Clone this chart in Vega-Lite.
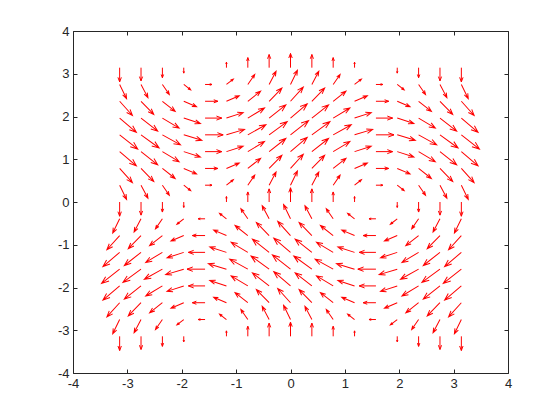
{
  "$schema": "https://vega.github.io/schema/vega-lite/v6.json",
  "width": 435,
  "height": 342,
  "autosize": {"type": "none"},
  "padding": {"left": 73, "top": 31, "right": 52, "bottom": 47},
  "background": "white",
  "config": {"view": {"stroke": "#262626", "strokeWidth": 1}},
  "datasets": {
    "field": [
{"x":-3.142,"y":-3.142,"u":0,"v":-1},{"x":-2.749,"y":-3.142,"u":0,"v":-0.924},{"x":-2.356,"y":-3.142,"u":0,"v":-0.707},{"x":-1.963,"y":-3.142,"u":0,"v":-0.383},{"x":-1.571,"y":-3.142,"u":0,"v":0},{"x":-1.178,"y":-3.142,"u":0,"v":0.383},{"x":-0.785,"y":-3.142,"u":0,"v":0.707},{"x":-0.393,"y":-3.142,"u":0,"v":0.924},{"x":0,"y":-3.142,"u":0,"v":1},{"x":0.393,"y":-3.142,"u":0,"v":0.924},{"x":0.785,"y":-3.142,"u":0,"v":0.707},{"x":1.178,"y":-3.142,"u":0,"v":0.383},{"x":1.571,"y":-3.142,"u":0,"v":0},{"x":1.963,"y":-3.142,"u":0,"v":-0.383},{"x":2.356,"y":-3.142,"u":0,"v":-0.707},{"x":2.749,"y":-3.142,"u":0,"v":-0.924},{"x":3.142,"y":-3.142,"u":0,"v":-1},
{"x":-3.142,"y":-2.749,"u":-0.383,"v":-1},{"x":-2.749,"y":-2.749,"u":-0.383,"v":-0.924},{"x":-2.356,"y":-2.749,"u":-0.383,"v":-0.707},{"x":-1.963,"y":-2.749,"u":-0.383,"v":-0.383},{"x":-1.571,"y":-2.749,"u":-0.383,"v":0},{"x":-1.178,"y":-2.749,"u":-0.383,"v":0.383},{"x":-0.785,"y":-2.749,"u":-0.383,"v":0.707},{"x":-0.393,"y":-2.749,"u":-0.383,"v":0.924},{"x":0,"y":-2.749,"u":-0.383,"v":1},{"x":0.393,"y":-2.749,"u":-0.383,"v":0.924},{"x":0.785,"y":-2.749,"u":-0.383,"v":0.707},{"x":1.178,"y":-2.749,"u":-0.383,"v":0.383},{"x":1.571,"y":-2.749,"u":-0.383,"v":0},{"x":1.963,"y":-2.749,"u":-0.383,"v":-0.383},{"x":2.356,"y":-2.749,"u":-0.383,"v":-0.707},{"x":2.749,"y":-2.749,"u":-0.383,"v":-0.924},{"x":3.142,"y":-2.749,"u":-0.383,"v":-1},
{"x":-3.142,"y":-2.356,"u":-0.707,"v":-1},{"x":-2.749,"y":-2.356,"u":-0.707,"v":-0.924},{"x":-2.356,"y":-2.356,"u":-0.707,"v":-0.707},{"x":-1.963,"y":-2.356,"u":-0.707,"v":-0.383},{"x":-1.571,"y":-2.356,"u":-0.707,"v":0},{"x":-1.178,"y":-2.356,"u":-0.707,"v":0.383},{"x":-0.785,"y":-2.356,"u":-0.707,"v":0.707},{"x":-0.393,"y":-2.356,"u":-0.707,"v":0.924},{"x":0,"y":-2.356,"u":-0.707,"v":1},{"x":0.393,"y":-2.356,"u":-0.707,"v":0.924},{"x":0.785,"y":-2.356,"u":-0.707,"v":0.707},{"x":1.178,"y":-2.356,"u":-0.707,"v":0.383},{"x":1.571,"y":-2.356,"u":-0.707,"v":0},{"x":1.963,"y":-2.356,"u":-0.707,"v":-0.383},{"x":2.356,"y":-2.356,"u":-0.707,"v":-0.707},{"x":2.749,"y":-2.356,"u":-0.707,"v":-0.924},{"x":3.142,"y":-2.356,"u":-0.707,"v":-1},
{"x":-3.142,"y":-1.963,"u":-0.924,"v":-1},{"x":-2.749,"y":-1.963,"u":-0.924,"v":-0.924},{"x":-2.356,"y":-1.963,"u":-0.924,"v":-0.707},{"x":-1.963,"y":-1.963,"u":-0.924,"v":-0.383},{"x":-1.571,"y":-1.963,"u":-0.924,"v":0},{"x":-1.178,"y":-1.963,"u":-0.924,"v":0.383},{"x":-0.785,"y":-1.963,"u":-0.924,"v":0.707},{"x":-0.393,"y":-1.963,"u":-0.924,"v":0.924},{"x":0,"y":-1.963,"u":-0.924,"v":1},{"x":0.393,"y":-1.963,"u":-0.924,"v":0.924},{"x":0.785,"y":-1.963,"u":-0.924,"v":0.707},{"x":1.178,"y":-1.963,"u":-0.924,"v":0.383},{"x":1.571,"y":-1.963,"u":-0.924,"v":0},{"x":1.963,"y":-1.963,"u":-0.924,"v":-0.383},{"x":2.356,"y":-1.963,"u":-0.924,"v":-0.707},{"x":2.749,"y":-1.963,"u":-0.924,"v":-0.924},{"x":3.142,"y":-1.963,"u":-0.924,"v":-1},
{"x":-3.142,"y":-1.571,"u":-1,"v":-1},{"x":-2.749,"y":-1.571,"u":-1,"v":-0.924},{"x":-2.356,"y":-1.571,"u":-1,"v":-0.707},{"x":-1.963,"y":-1.571,"u":-1,"v":-0.383},{"x":-1.571,"y":-1.571,"u":-1,"v":0},{"x":-1.178,"y":-1.571,"u":-1,"v":0.383},{"x":-0.785,"y":-1.571,"u":-1,"v":0.707},{"x":-0.393,"y":-1.571,"u":-1,"v":0.924},{"x":0,"y":-1.571,"u":-1,"v":1},{"x":0.393,"y":-1.571,"u":-1,"v":0.924},{"x":0.785,"y":-1.571,"u":-1,"v":0.707},{"x":1.178,"y":-1.571,"u":-1,"v":0.383},{"x":1.571,"y":-1.571,"u":-1,"v":0},{"x":1.963,"y":-1.571,"u":-1,"v":-0.383},{"x":2.356,"y":-1.571,"u":-1,"v":-0.707},{"x":2.749,"y":-1.571,"u":-1,"v":-0.924},{"x":3.142,"y":-1.571,"u":-1,"v":-1},
{"x":-3.142,"y":-1.178,"u":-0.924,"v":-1},{"x":-2.749,"y":-1.178,"u":-0.924,"v":-0.924},{"x":-2.356,"y":-1.178,"u":-0.924,"v":-0.707},{"x":-1.963,"y":-1.178,"u":-0.924,"v":-0.383},{"x":-1.571,"y":-1.178,"u":-0.924,"v":0},{"x":-1.178,"y":-1.178,"u":-0.924,"v":0.383},{"x":-0.785,"y":-1.178,"u":-0.924,"v":0.707},{"x":-0.393,"y":-1.178,"u":-0.924,"v":0.924},{"x":0,"y":-1.178,"u":-0.924,"v":1},{"x":0.393,"y":-1.178,"u":-0.924,"v":0.924},{"x":0.785,"y":-1.178,"u":-0.924,"v":0.707},{"x":1.178,"y":-1.178,"u":-0.924,"v":0.383},{"x":1.571,"y":-1.178,"u":-0.924,"v":0},{"x":1.963,"y":-1.178,"u":-0.924,"v":-0.383},{"x":2.356,"y":-1.178,"u":-0.924,"v":-0.707},{"x":2.749,"y":-1.178,"u":-0.924,"v":-0.924},{"x":3.142,"y":-1.178,"u":-0.924,"v":-1},
{"x":-3.142,"y":-0.785,"u":-0.707,"v":-1},{"x":-2.749,"y":-0.785,"u":-0.707,"v":-0.924},{"x":-2.356,"y":-0.785,"u":-0.707,"v":-0.707},{"x":-1.963,"y":-0.785,"u":-0.707,"v":-0.383},{"x":-1.571,"y":-0.785,"u":-0.707,"v":0},{"x":-1.178,"y":-0.785,"u":-0.707,"v":0.383},{"x":-0.785,"y":-0.785,"u":-0.707,"v":0.707},{"x":-0.393,"y":-0.785,"u":-0.707,"v":0.924},{"x":0,"y":-0.785,"u":-0.707,"v":1},{"x":0.393,"y":-0.785,"u":-0.707,"v":0.924},{"x":0.785,"y":-0.785,"u":-0.707,"v":0.707},{"x":1.178,"y":-0.785,"u":-0.707,"v":0.383},{"x":1.571,"y":-0.785,"u":-0.707,"v":0},{"x":1.963,"y":-0.785,"u":-0.707,"v":-0.383},{"x":2.356,"y":-0.785,"u":-0.707,"v":-0.707},{"x":2.749,"y":-0.785,"u":-0.707,"v":-0.924},{"x":3.142,"y":-0.785,"u":-0.707,"v":-1},
{"x":-3.142,"y":-0.393,"u":-0.383,"v":-1},{"x":-2.749,"y":-0.393,"u":-0.383,"v":-0.924},{"x":-2.356,"y":-0.393,"u":-0.383,"v":-0.707},{"x":-1.963,"y":-0.393,"u":-0.383,"v":-0.383},{"x":-1.571,"y":-0.393,"u":-0.383,"v":0},{"x":-1.178,"y":-0.393,"u":-0.383,"v":0.383},{"x":-0.785,"y":-0.393,"u":-0.383,"v":0.707},{"x":-0.393,"y":-0.393,"u":-0.383,"v":0.924},{"x":0,"y":-0.393,"u":-0.383,"v":1},{"x":0.393,"y":-0.393,"u":-0.383,"v":0.924},{"x":0.785,"y":-0.393,"u":-0.383,"v":0.707},{"x":1.178,"y":-0.393,"u":-0.383,"v":0.383},{"x":1.571,"y":-0.393,"u":-0.383,"v":0},{"x":1.963,"y":-0.393,"u":-0.383,"v":-0.383},{"x":2.356,"y":-0.393,"u":-0.383,"v":-0.707},{"x":2.749,"y":-0.393,"u":-0.383,"v":-0.924},{"x":3.142,"y":-0.393,"u":-0.383,"v":-1},
{"x":-3.142,"y":0,"u":0,"v":-1},{"x":-2.749,"y":0,"u":0,"v":-0.924},{"x":-2.356,"y":0,"u":0,"v":-0.707},{"x":-1.963,"y":0,"u":0,"v":-0.383},{"x":-1.571,"y":0,"u":0,"v":0},{"x":-1.178,"y":0,"u":0,"v":0.383},{"x":-0.785,"y":0,"u":0,"v":0.707},{"x":-0.393,"y":0,"u":0,"v":0.924},{"x":0,"y":0,"u":0,"v":1},{"x":0.393,"y":0,"u":0,"v":0.924},{"x":0.785,"y":0,"u":0,"v":0.707},{"x":1.178,"y":0,"u":0,"v":0.383},{"x":1.571,"y":0,"u":0,"v":0},{"x":1.963,"y":0,"u":0,"v":-0.383},{"x":2.356,"y":0,"u":0,"v":-0.707},{"x":2.749,"y":0,"u":0,"v":-0.924},{"x":3.142,"y":0,"u":0,"v":-1},
{"x":-3.142,"y":0.393,"u":0.383,"v":-1},{"x":-2.749,"y":0.393,"u":0.383,"v":-0.924},{"x":-2.356,"y":0.393,"u":0.383,"v":-0.707},{"x":-1.963,"y":0.393,"u":0.383,"v":-0.383},{"x":-1.571,"y":0.393,"u":0.383,"v":0},{"x":-1.178,"y":0.393,"u":0.383,"v":0.383},{"x":-0.785,"y":0.393,"u":0.383,"v":0.707},{"x":-0.393,"y":0.393,"u":0.383,"v":0.924},{"x":0,"y":0.393,"u":0.383,"v":1},{"x":0.393,"y":0.393,"u":0.383,"v":0.924},{"x":0.785,"y":0.393,"u":0.383,"v":0.707},{"x":1.178,"y":0.393,"u":0.383,"v":0.383},{"x":1.571,"y":0.393,"u":0.383,"v":0},{"x":1.963,"y":0.393,"u":0.383,"v":-0.383},{"x":2.356,"y":0.393,"u":0.383,"v":-0.707},{"x":2.749,"y":0.393,"u":0.383,"v":-0.924},{"x":3.142,"y":0.393,"u":0.383,"v":-1},
{"x":-3.142,"y":0.785,"u":0.707,"v":-1},{"x":-2.749,"y":0.785,"u":0.707,"v":-0.924},{"x":-2.356,"y":0.785,"u":0.707,"v":-0.707},{"x":-1.963,"y":0.785,"u":0.707,"v":-0.383},{"x":-1.571,"y":0.785,"u":0.707,"v":0},{"x":-1.178,"y":0.785,"u":0.707,"v":0.383},{"x":-0.785,"y":0.785,"u":0.707,"v":0.707},{"x":-0.393,"y":0.785,"u":0.707,"v":0.924},{"x":0,"y":0.785,"u":0.707,"v":1},{"x":0.393,"y":0.785,"u":0.707,"v":0.924},{"x":0.785,"y":0.785,"u":0.707,"v":0.707},{"x":1.178,"y":0.785,"u":0.707,"v":0.383},{"x":1.571,"y":0.785,"u":0.707,"v":0},{"x":1.963,"y":0.785,"u":0.707,"v":-0.383},{"x":2.356,"y":0.785,"u":0.707,"v":-0.707},{"x":2.749,"y":0.785,"u":0.707,"v":-0.924},{"x":3.142,"y":0.785,"u":0.707,"v":-1},
{"x":-3.142,"y":1.178,"u":0.924,"v":-1},{"x":-2.749,"y":1.178,"u":0.924,"v":-0.924},{"x":-2.356,"y":1.178,"u":0.924,"v":-0.707},{"x":-1.963,"y":1.178,"u":0.924,"v":-0.383},{"x":-1.571,"y":1.178,"u":0.924,"v":0},{"x":-1.178,"y":1.178,"u":0.924,"v":0.383},{"x":-0.785,"y":1.178,"u":0.924,"v":0.707},{"x":-0.393,"y":1.178,"u":0.924,"v":0.924},{"x":0,"y":1.178,"u":0.924,"v":1},{"x":0.393,"y":1.178,"u":0.924,"v":0.924},{"x":0.785,"y":1.178,"u":0.924,"v":0.707},{"x":1.178,"y":1.178,"u":0.924,"v":0.383},{"x":1.571,"y":1.178,"u":0.924,"v":0},{"x":1.963,"y":1.178,"u":0.924,"v":-0.383},{"x":2.356,"y":1.178,"u":0.924,"v":-0.707},{"x":2.749,"y":1.178,"u":0.924,"v":-0.924},{"x":3.142,"y":1.178,"u":0.924,"v":-1},
{"x":-3.142,"y":1.571,"u":1,"v":-1},{"x":-2.749,"y":1.571,"u":1,"v":-0.924},{"x":-2.356,"y":1.571,"u":1,"v":-0.707},{"x":-1.963,"y":1.571,"u":1,"v":-0.383},{"x":-1.571,"y":1.571,"u":1,"v":0},{"x":-1.178,"y":1.571,"u":1,"v":0.383},{"x":-0.785,"y":1.571,"u":1,"v":0.707},{"x":-0.393,"y":1.571,"u":1,"v":0.924},{"x":0,"y":1.571,"u":1,"v":1},{"x":0.393,"y":1.571,"u":1,"v":0.924},{"x":0.785,"y":1.571,"u":1,"v":0.707},{"x":1.178,"y":1.571,"u":1,"v":0.383},{"x":1.571,"y":1.571,"u":1,"v":0},{"x":1.963,"y":1.571,"u":1,"v":-0.383},{"x":2.356,"y":1.571,"u":1,"v":-0.707},{"x":2.749,"y":1.571,"u":1,"v":-0.924},{"x":3.142,"y":1.571,"u":1,"v":-1},
{"x":-3.142,"y":1.963,"u":0.924,"v":-1},{"x":-2.749,"y":1.963,"u":0.924,"v":-0.924},{"x":-2.356,"y":1.963,"u":0.924,"v":-0.707},{"x":-1.963,"y":1.963,"u":0.924,"v":-0.383},{"x":-1.571,"y":1.963,"u":0.924,"v":0},{"x":-1.178,"y":1.963,"u":0.924,"v":0.383},{"x":-0.785,"y":1.963,"u":0.924,"v":0.707},{"x":-0.393,"y":1.963,"u":0.924,"v":0.924},{"x":0,"y":1.963,"u":0.924,"v":1},{"x":0.393,"y":1.963,"u":0.924,"v":0.924},{"x":0.785,"y":1.963,"u":0.924,"v":0.707},{"x":1.178,"y":1.963,"u":0.924,"v":0.383},{"x":1.571,"y":1.963,"u":0.924,"v":0},{"x":1.963,"y":1.963,"u":0.924,"v":-0.383},{"x":2.356,"y":1.963,"u":0.924,"v":-0.707},{"x":2.749,"y":1.963,"u":0.924,"v":-0.924},{"x":3.142,"y":1.963,"u":0.924,"v":-1},
{"x":-3.142,"y":2.356,"u":0.707,"v":-1},{"x":-2.749,"y":2.356,"u":0.707,"v":-0.924},{"x":-2.356,"y":2.356,"u":0.707,"v":-0.707},{"x":-1.963,"y":2.356,"u":0.707,"v":-0.383},{"x":-1.571,"y":2.356,"u":0.707,"v":0},{"x":-1.178,"y":2.356,"u":0.707,"v":0.383},{"x":-0.785,"y":2.356,"u":0.707,"v":0.707},{"x":-0.393,"y":2.356,"u":0.707,"v":0.924},{"x":0,"y":2.356,"u":0.707,"v":1},{"x":0.393,"y":2.356,"u":0.707,"v":0.924},{"x":0.785,"y":2.356,"u":0.707,"v":0.707},{"x":1.178,"y":2.356,"u":0.707,"v":0.383},{"x":1.571,"y":2.356,"u":0.707,"v":0},{"x":1.963,"y":2.356,"u":0.707,"v":-0.383},{"x":2.356,"y":2.356,"u":0.707,"v":-0.707},{"x":2.749,"y":2.356,"u":0.707,"v":-0.924},{"x":3.142,"y":2.356,"u":0.707,"v":-1},
{"x":-3.142,"y":2.749,"u":0.383,"v":-1},{"x":-2.749,"y":2.749,"u":0.383,"v":-0.924},{"x":-2.356,"y":2.749,"u":0.383,"v":-0.707},{"x":-1.963,"y":2.749,"u":0.383,"v":-0.383},{"x":-1.571,"y":2.749,"u":0.383,"v":0},{"x":-1.178,"y":2.749,"u":0.383,"v":0.383},{"x":-0.785,"y":2.749,"u":0.383,"v":0.707},{"x":-0.393,"y":2.749,"u":0.383,"v":0.924},{"x":0,"y":2.749,"u":0.383,"v":1},{"x":0.393,"y":2.749,"u":0.383,"v":0.924},{"x":0.785,"y":2.749,"u":0.383,"v":0.707},{"x":1.178,"y":2.749,"u":0.383,"v":0.383},{"x":1.571,"y":2.749,"u":0.383,"v":0},{"x":1.963,"y":2.749,"u":0.383,"v":-0.383},{"x":2.356,"y":2.749,"u":0.383,"v":-0.707},{"x":2.749,"y":2.749,"u":0.383,"v":-0.924},{"x":3.142,"y":2.749,"u":0.383,"v":-1},
{"x":-3.142,"y":3.142,"u":0,"v":-1},{"x":-2.749,"y":3.142,"u":0,"v":-0.924},{"x":-2.356,"y":3.142,"u":0,"v":-0.707},{"x":-1.963,"y":3.142,"u":0,"v":-0.383},{"x":-1.571,"y":3.142,"u":0,"v":0},{"x":-1.178,"y":3.142,"u":0,"v":0.383},{"x":-0.785,"y":3.142,"u":0,"v":0.707},{"x":-0.393,"y":3.142,"u":0,"v":0.924},{"x":0,"y":3.142,"u":0,"v":1},{"x":0.393,"y":3.142,"u":0,"v":0.924},{"x":0.785,"y":3.142,"u":0,"v":0.707},{"x":1.178,"y":3.142,"u":0,"v":0.383},{"x":1.571,"y":3.142,"u":0,"v":0},{"x":1.963,"y":3.142,"u":0,"v":-0.383},{"x":2.356,"y":3.142,"u":0,"v":-0.707},{"x":2.749,"y":3.142,"u":0,"v":-0.924},{"x":3.142,"y":3.142,"u":0,"v":-1}
    ]
  },
  "layer": [
    {
      "data": {"name": "field"},
      "transform": [
        {"calculate": "atan2(-42.75*datum.v, 54.375*datum.u)*180/PI", "as": "ang"},
        {"calculate": "pow(0.332641,2)*(pow(54.375*datum.u,2)+pow(42.75*datum.v,2))", "as": "sz"}
      ],
      "mark": {
        "type": "point",
        "shape": "M0,0L2,0M1.36,-0.24L2,0L1.36,0.24",
        "filled": false,
        "stroke": "#ff0000",
        "strokeWidth": 1,
        "opacity": 1
      },
      "encoding": {
        "x": {"field": "x", "type": "quantitative", "scale": {"domain": [-4, 4], "nice": false, "zero": false},
          "axis": {"orient": "bottom", "values": [-4,-3,-2,-1,0,1,2,3,4], "title": null, "grid": false, "domain": false, "labelFlush": false,
            "labelExpr": "'' + datum.value",
            "tickSize": -4, "tickColor": "#262626", "labelColor": "#262626", "labelFont": "Liberation Sans", "labelFontSize": 13, "labelPadding": 8}},
        "y": {"field": "y", "type": "quantitative", "scale": {"domain": [-4, 4], "nice": false, "zero": false},
          "axis": {"orient": "left", "values": [-4,-3,-2,-1,0,1,2,3,4], "title": null, "grid": false, "domain": false, "labelFlush": false,
            "labelExpr": "'' + datum.value",
            "tickSize": -4, "tickColor": "#262626", "labelColor": "#262626", "labelFont": "Liberation Sans", "labelFontSize": 13, "labelPadding": 8}},
        "angle": {"field": "ang", "type": "quantitative", "scale": null},
        "size": {"field": "sz", "type": "quantitative", "scale": null}
      }
    },
    {
      "data": {"values": [{"x": 0, "y": 0}]},
      "mark": {"type": "point", "opacity": 0},
      "encoding": {
        "x": {"field": "x", "type": "quantitative",
          "axis": {"orient": "top", "values": [-4,-3,-2,-1,0,1,2,3,4], "title": null, "grid": false, "domain": false, "labels": false, "tickSize": -4, "tickColor": "#262626"}},
        "y": {"field": "y", "type": "quantitative",
          "axis": {"orient": "right", "values": [-4,-3,-2,-1,0,1,2,3,4], "title": null, "grid": false, "domain": false, "labels": false, "tickSize": -4, "tickColor": "#262626"}}
      }
    }
  ],
  "resolve": {"axis": {"x": "independent", "y": "independent"}}
}
